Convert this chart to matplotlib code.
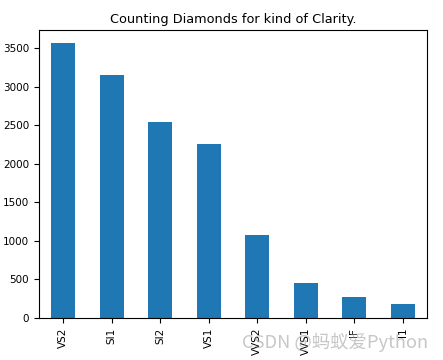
import matplotlib
matplotlib.use("Agg")
import matplotlib.pyplot as plt

categories = ["VS2", "SI1", "SI2", "VS1", "VVS2", "VVS1", "IF", "I1"]
counts = [3565, 3162, 2542, 2258, 1083, 450, 273, 180]
title = "Counting Diamonds for kind of Clarity."

plt.rcParams['font.size'] = 7.5
fig = plt.figure(figsize=(4.43, 3.6), dpi=100)
ax = fig.add_axes([39/443, 1-318/360, (427-39)/443, (318-30)/360])
x = range(len(categories))
ax.bar(x, counts, width=0.5, color="#1f77b4")
ax.set_xticks(list(x))
ax.set_xticklabels(categories, rotation=90)
ax.set_xlim(-0.5, len(categories)-0.5)
ax.set_ylim(0, 3740)
ax.set_yticks(range(0, 3501, 500))
ax.set_title(title, fontsize=9.3, pad=5)

fig.text(428/443, 1-342/360, "CSDN @蚂蚁爱Python", ha="right", va="center",
         fontsize=13.2, color="#999999", alpha=0.55,
         family=["Noto Sans CJK SC", "DejaVu Sans"])
fig.savefig("out.png", dpi=100)
